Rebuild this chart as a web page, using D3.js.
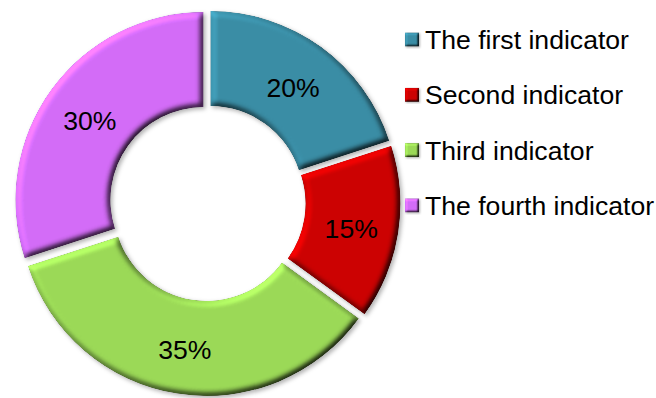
<!DOCTYPE html>
<html>
<head>
<meta charset="utf-8">
<script src="https://cdn.jsdelivr.net/npm/d3@7"></script>
<style>
  body { margin: 0; background: #fff; }
  svg { display: block; font-family: "Liberation Sans", Arial, sans-serif; }
</style>
</head>
<body>
<div id="chart"></div>
<script>
const w = 656;
const h = 398;

// data
const categories = ["The first indicator", "Second indicator", "Third indicator", "The fourth indicator"];
const values = [20, 15, 35, 30];
const labels = ["20%", "15%", "35%", "30%"];
const colors = ["#3a8da5", "#cc0202", "#9bd957", "#d36cf7"];

const cx = 207.5;
const cy = 203;
const outerR = 188;
const innerR = 93;
const explode = 5;
const fontSize = 26.6;

const svg = d3.select("#chart")
  .append("svg")
  .attr("width", w)
  .attr("height", h);

//Bevel + shadow filters
const defs = svg.append("defs");
function makeBevel(id, blur, scale, shadowBlur, shadowOff) {
  const f = defs.append("filter")
    .attr("id", id)
    .attr("x", "-10%").attr("y", "-10%")
    .attr("width", "125%").attr("height", "125%")
    .attr("color-interpolation-filters", "sRGB");
  f.append("feGaussianBlur").attr("in", "SourceAlpha").attr("stdDeviation", blur).attr("result", "blur");
  f.append("feDiffuseLighting")
    .attr("in", "blur").attr("surfaceScale", scale).attr("diffuseConstant", 1)
    .attr("lighting-color", "#fff").attr("result", "light")
    .append("feDistantLight").attr("azimuth", 225).attr("elevation", 55);
  f.append("feComposite").attr("in", "SourceGraphic").attr("in2", "light")
    .attr("operator", "arithmetic").attr("k1", 1.22).attr("result", "lit");
  f.append("feComposite").attr("in", "lit").attr("in2", "SourceAlpha")
    .attr("operator", "in").attr("result", "litIn");
  f.append("feGaussianBlur").attr("in", "SourceAlpha").attr("stdDeviation", shadowBlur).attr("result", "sb");
  f.append("feOffset").attr("in", "sb").attr("dx", shadowOff).attr("dy", shadowOff).attr("result", "so");
  f.append("feFlood").attr("flood-color", "#000").attr("flood-opacity", 0.3).attr("result", "sf");
  f.append("feComposite").attr("in", "sf").attr("in2", "so").attr("operator", "in").attr("result", "shadow");
  const m = f.append("feMerge");
  m.append("feMergeNode").attr("in", "shadow");
  m.append("feMergeNode").attr("in", "litIn");
}
makeBevel("bevel", 3, 4, 2, 2);
makeBevel("bevelSmall", 1.2, 2, 0.8, 1);

const color = d3.scaleOrdinal().domain(categories).range(colors);

const pie = d3.pie().sort(null).value((d, i) => values[i]);
const arcs = pie(categories);

const arc = d3.arc().innerRadius(innerR).outerRadius(outerR);

function offset(d) {
  const a = (d.startAngle + d.endAngle) / 2;
  return [Math.sin(a) * explode, -Math.cos(a) * explode];
}

const g = svg.append("g").attr("transform", `translate(${cx},${cy})`);

g.selectAll(".slice")
  .data(arcs)
  .enter().append("path")
  .attr("class", "slice")
  .attr("d", arc)
  .attr("fill", d => color(d.data))
  .attr("filter", "url(#bevel)")
  .attr("transform", d => `translate(${offset(d)})`);

//Data labels
g.selectAll(".label")
  .data(arcs)
  .enter().append("text")
  .attr("class", "label")
  .attr("transform", d => {
    const a = (d.startAngle + d.endAngle) / 2;
    const r = (innerR + outerR) / 2 + explode;
    return `translate(${Math.sin(a) * r},${-Math.cos(a) * r + 2.5})`;
  })
  .attr("text-anchor", "middle")
  .attr("dy", "0.36em")
  .attr("font-size", fontSize)
  .attr("fill", "#000")
  .text((d, i) => labels[i]);

//Legend
const legX = 405;
const legY0 = 49;
const legStep = 55.3;
const legend = svg.append("g").attr("id", "legend");
const items = legend.selectAll("g")
  .data(categories)
  .enter().append("g")
  .attr("transform", (d, i) => `translate(${legX},${legY0 + i * legStep})`);

items.append("rect")
  .attr("x", 0)
  .attr("y", -16.5)
  .attr("width", 14)
  .attr("height", 14)
  .attr("fill", d => color(d))
  .attr("filter", "url(#bevelSmall)");

items.append("text")
  .attr("x", 20)
  .attr("y", 0)
  .attr("font-size", fontSize)
  .attr("fill", "#000")
  .text(d => d);
</script>
</body>
</html>
